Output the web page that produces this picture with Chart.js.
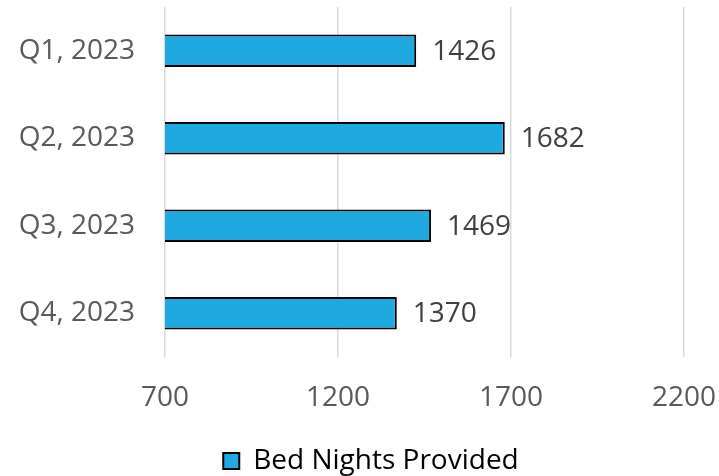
<!DOCTYPE html>
<html>
<head>
<meta charset="utf-8">
<script src="https://cdn.jsdelivr.net/npm/chart.js@4"></script>
<style>
  html, body { margin: 0; padding: 0; background: #fff; }
  #wrap { width: 719px; height: 476px; position: relative; }
</style>
</head>
<body>
<div id="wrap"><canvas id="chart"></canvas></div>
<script>
// 데이터
const quarters = ["Q1, 2023", "Q2, 2023", "Q3, 2023", "Q4, 2023"];
const bedNights = [1426, 1682, 1469, 1370];
const xTicks = [700, 1200, 1700, 2200];
const seriesName = "Bed Nights Provided";

const FONT = "'Open Sans', 'Noto Sans', sans-serif";
const GREY = "#595959";

// 막대 끝에 값 표시
const valueLabels = {
  id: "valueLabels",
  afterDatasetsDraw(chart) {
    const ctx = chart.ctx;
    const meta = chart.getDatasetMeta(0);
    ctx.save();
    ctx.font = "28px " + FONT;
    ctx.fillStyle = "#404040";
    ctx.textAlign = "left";
    ctx.textBaseline = "middle";
    meta.data.forEach((bar, i) => {
      ctx.fillText(String(bedNights[i]), bar.x + 16, bar.y + 1);
    });
    ctx.restore();
  }
};

// 범례를 오른쪽으로 조금 옮김
const legendShift = {
  id: "legendShift",
  afterLayout(chart) {
    chart.legend.left += 29;
    chart.legend.right += 29;
  }
};

new Chart(document.getElementById("chart"), {
  type: "bar",
  data: {
    labels: quarters,
    datasets: [{
      label: seriesName,
      data: bedNights,
      backgroundColor: "#1eaae1",
      borderColor: "#000",
      borderWidth: 2,
      categoryPercentage: 1,
      barPercentage: 0.37
    }]
  },
  options: {
    indexAxis: "y",
    responsive: true, maintainAspectRatio: false, animation: false,
    layout: { padding: { top: 7, right: 35, left: 0, bottom: -9 } },
    plugins: {
      tooltip: { enabled: false },
      legend: {
        position: "bottom",
        labels: {
          color: GREY, font: { family: FONT, size: 28 },
          boxWidth: 16, boxHeight: 16, padding: 10,
          generateLabels: c => [{
            text: seriesName, fillStyle: "#1eaae1", strokeStyle: "#000",
            lineWidth: 2, datasetIndex: 0
          }]
        }
      }
    },
    scales: {
      x: {
        min: 700, max: 2200,
        afterBuildTicks: s => { s.ticks = xTicks.map(v => ({ value: v })); },
        ticks: { color: GREY, font: { family: FONT, size: 28 }, padding: 24, callback: v => String(v) },
        grid: { color: "#d9d9d9", lineWidth: 1.5, drawTicks: false },
        border: { display: false },
        afterFit: s => { s.height = 80; s.paddingLeft = 0; s.paddingRight = 0; }
      },
      y: {
        ticks: { color: GREY, font: { family: FONT, size: 28 }, padding: 30 },
        grid: { display: false, drawTicks: false },
        border: { display: false },
        afterFit: s => { s.width = 165; s.paddingTop = 0; s.paddingBottom = 0; }
      }
    }
  },
  plugins: [valueLabels, legendShift]
});
</script>
</body>
</html>
